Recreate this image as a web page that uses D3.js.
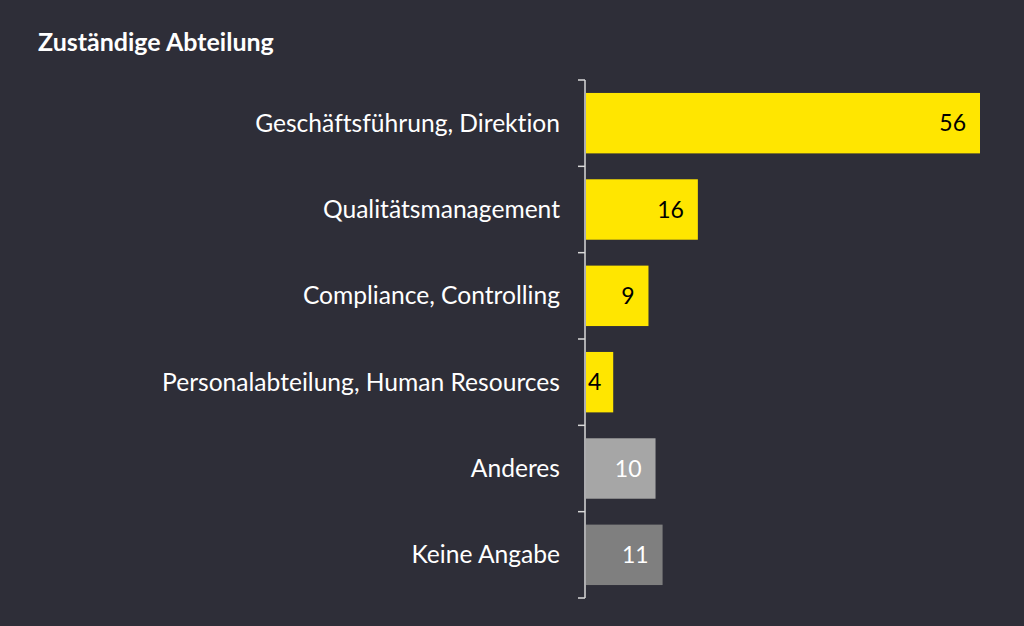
<!DOCTYPE html>
<html>
<head>
<meta charset="utf-8">
<script src="https://cdn.jsdelivr.net/npm/d3@7"></script>
<style>
  body { margin: 0; background: #2e2e38; }
  svg { display: block; font-family: Lato, "Open Sans", sans-serif; font-variant-ligatures: none; }
</style>
</head>
<body>
<svg id="chart"></svg>
<script>
"use strict";

var title = 'Zuständige Abteilung';

var categories = [
    'Geschäftsführung, Direktion',
    'Qualitätsmanagement',
    'Compliance, Controlling',
    'Personalabteilung, Human Resources',
    'Anderes',
    'Keine Angabe'
];

var values = [56, 16, 9, 4, 10, 11];

// colour group per bar: answer / other / no answer
var groups = ['answer', 'answer', 'answer', 'answer', 'other', 'none'];

var settings = {
    width: 1024,
    height: 626,
    axisX: 585,
    top: 80,
    bottom: 598,
    right: 980,
    fill: { answer: '#ffe600', other: '#a6a6a6', none: '#7f7f7f' },
    text: { answer: '#000000', other: '#ffffff', none: '#ffffff' }
};

var svg = d3.select('#chart')
    .attr('width', settings.width)
    .attr('height', settings.height);

svg.append('rect')
    .attr('width', settings.width)
    .attr('height', settings.height)
    .attr('fill', '#2e2e38');

svg.append('text')
    .attr('x', 38)
    .attr('y', 51)
    .attr('fill', '#ffffff')
    .attr('font-size', 25)
    .attr('font-weight', 'bold')
    .text(title);

var x = d3.scaleLinear()
    .domain([0, d3.max(values)])
    .range([settings.axisX, settings.right]);

var y = d3.scaleBand()
    .domain(categories)
    .range([settings.top, settings.bottom])
    .paddingInner(0.3)
    .paddingOuter(0.15);

var yTicks = d3.scaleBand()
    .domain(categories)
    .range([settings.top, settings.bottom]);

var rows = categories.map((c, i) => ({ name: c, value: values[i], group: groups[i] }));

// axis: vertical line with ticks at the band borders
var axis = svg.append('g').attr('class', 'axis');

axis.append('line')
    .attr('x1', settings.axisX).attr('x2', settings.axisX)
    .attr('y1', settings.top).attr('y2', settings.bottom)
    .attr('stroke', '#d9d9d9')
    .attr('stroke-width', 1.5);

var borders = categories.map(c => yTicks(c)).concat([settings.bottom]);

axis.selectAll('.tick')
    .data(borders)
    .enter()
    .append('line')
    .attr('x1', settings.axisX - 7).attr('x2', settings.axisX)
    .attr('y1', d => d).attr('y2', d => d)
    .attr('stroke', '#d9d9d9')
    .attr('stroke-width', 1.5);

axis.selectAll('.cat')
    .data(rows)
    .enter()
    .append('text')
    .attr('x', 560)
    .attr('y', d => yTicks(d.name) + yTicks.bandwidth() / 2)
    .attr('dy', '0.35em')
    .attr('text-anchor', 'end')
    .attr('fill', '#ffffff')
    .attr('font-size', 24.6)
    .text(d => d.name);

var bars = svg.append('g').attr('class', 'bars');

bars.selectAll('rect')
    .data(rows)
    .enter()
    .append('rect')
    .attr('x', x(0) + 1)
    .attr('y', d => y(d.name))
    .attr('width', d => x(d.value) - x(0) - 1)
    .attr('height', y.bandwidth())
    .attr('fill', d => settings.fill[d.group]);

bars.selectAll('text')
    .data(rows)
    .enter()
    .append('text')
    .attr('x', d => x(d.value) - 14)
    .attr('y', d => y(d.name) + y.bandwidth() / 2)
    .attr('dy', '0.36em')
    .attr('text-anchor', 'end')
    .attr('fill', d => settings.text[d.group])
    .attr('font-size', 23)
    .text(d => d.value)
    .each(function () {
        // keep short bar labels inside the bar start
        var box = this.getBBox();
        if (box.x < settings.axisX + 3) {
            d3.select(this)
                .attr('text-anchor', 'start')
                .attr('x', settings.axisX + 3);
        }
    });
</script>
</body>
</html>
